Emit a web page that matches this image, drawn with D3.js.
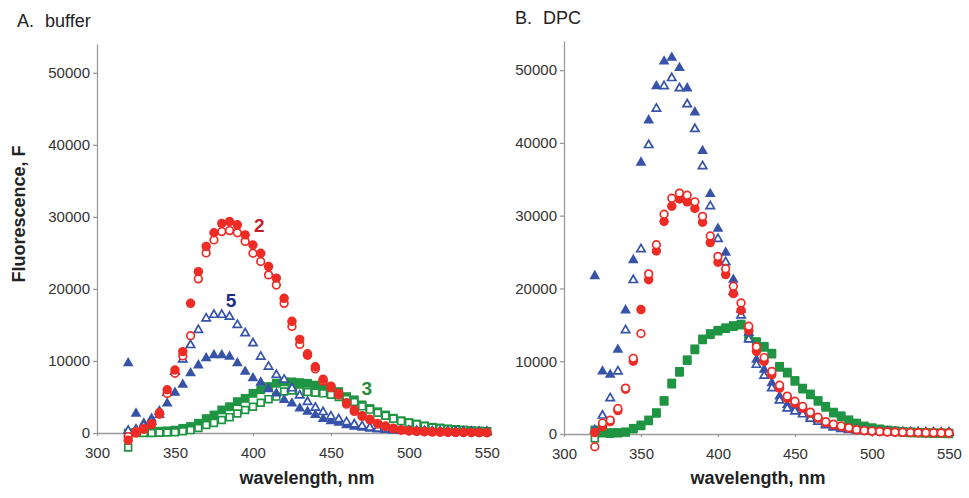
<!DOCTYPE html>
<html>
<head>
<meta charset="utf-8">
<script src="https://cdn.jsdelivr.net/npm/d3@7"></script>
<style>
body { margin: 0; background: #fff; }
svg { display: block; font-family: "Liberation Sans", Arial, sans-serif; }
</style>
</head>
<body>
<div id="container"></div>
<script>
/* CONSTANTS AND GLOBALS */
const width = 969, height = 498;
const red = "#ee2b25", blue = "#3653a8", green = "#1f9442";

/* DATA (5 nm steps) */
const wavelengths = [320,325,330,335,340,345,350,355,360,365,370,375,380,385,390,395,400,405,410,415,
  420,425,430,435,440,445,450,455,460,465,470,475,480,485,490,495,500,505,510,515,
  520,525,530,535,540,545,550];
const yTicks = [0, 10000, 20000, 30000, 40000, 50000];
const xTicks = [300, 350, 400, 450, 500, 550];

// A. buffer
const bufRedFilled = [-1000,0,600,1300,2800,6000,8750,11300,18000,22400,25900,27800,29100,29350,28900,27500,26100,24950,23100,21500,
  18700,15500,13000,10800,9200,7450,6500,5500,4200,3200,2400,1900,1340,970,650,420,320,250,200,160,
  130,110,90,80,70,60,50];
const bufRedOpen = [-500,200,500,1200,2600,5500,8300,10700,13500,21400,25000,26800,27960,28100,27800,26600,24950,23800,21950,20550,
  18000,14800,12300,11000,8900,7200,6300,5300,4000,3000,2300,1800,1250,900,600,400,300,230,180,150,
  120,100,80,70,60,50,40];
const bufBlueFilled = [9700,2700,1340,2000,2500,4100,5600,6700,8300,9400,10400,10800,10800,10600,9700,8500,7600,7000,6100,5500,
  4600,4100,3400,2950,2500,1950,1650,1430,1100,880,740,600,500,420,370,330,300,270,250,230,
  210,200,190,180,170,160,150];
const bufBlueOpen = [300,500,1000,1600,3000,5600,8500,10200,12200,14300,15900,16400,16400,16150,15000,13840,12450,10600,9200,8050,
  7400,6200,5200,4300,3500,2900,2300,1900,1500,1200,950,750,600,480,400,340,300,270,240,220,
  200,180,170,160,150,140,130];
const bufGreenFilled = [0,100,150,200,250,300,400,650,900,1350,2000,2500,3200,3650,4350,4800,5500,6000,6450,6900,
  7100,7100,7000,6900,6650,6400,6200,5750,5050,4600,3900,3400,2950,2500,2050,1700,1450,1250,1000,800,
  700,560,500,420,320,280,230];
const bufGreenOpen = [-2000,0,0,0,50,80,100,250,400,700,1100,1400,1800,2200,2700,3200,3650,4200,4700,5050,
  5750,5900,5800,5700,5600,5500,5300,5000,4700,4300,3700,3250,2800,2400,2000,1650,1400,1200,950,770,
  660,540,480,400,310,260,210];

// B. DPC
const dpcRedFilled = [200,1000,1700,3220,6160,10000,17100,21200,25150,29200,31300,32300,31900,31000,29100,26300,23600,21900,19300,17000,
  14200,11360,9980,8140,6300,4920,4230,3540,2850,2160,1560,1240,1010,780,550,450,380,320,280,250,
  220,200,180,160,150,140,130];
const dpcRedOpen = [-1750,1500,1900,3500,6300,10400,13800,22000,26000,30200,32400,33100,32800,31900,29900,27200,24400,22700,20300,18000,
  14800,12000,10500,8600,6700,5200,4500,3800,3000,2300,1700,1350,1100,850,600,480,400,340,290,260,
  230,210,190,170,160,150,140];
const dpcBlueFilled = [21700,8600,8140,11590,17000,23900,37300,43100,47800,51200,51700,50300,47500,44200,38900,33000,28200,24930,21200,17100,
  13900,10200,8830,7000,5150,4000,3540,3080,2400,1930,1380,1010,780,640,550,460,400,350,310,280,
  260,240,230,220,210,200,200];
const dpcBlueOpen = [500,2530,4920,8600,14260,21150,25400,39700,44700,47800,48900,47500,45300,41900,36800,31300,26800,23600,19500,16300,
  13000,9500,8000,6300,4600,3500,3100,2700,2100,1700,1200,900,700,560,480,400,350,310,280,250,
  230,220,210,200,190,180,170];
const dpcGreenFilled = [550,300,200,200,300,780,1240,1930,2940,4600,7000,8600,10200,11700,13060,13800,14250,14600,14900,15100,
  13300,12700,12050,11100,9300,8500,7350,6300,5500,4600,3800,3000,2500,1950,1500,1100,870,700,550,450,
  350,300,250,200,180,150,130];
const dpcGreenOpen = [-600,100,50,100,200,650,1100,1800,2800,4450,6850,8450,10050,11550,12900,13650,14100,14450,14750,14950,
  13150,12550,11900,10950,9150,8350,7200,6150,5350,4450,3650,2850,2350,1800,1350,950,720,550,400,300,
  200,150,100,60,40,20,10];

/* PANEL LAYOUT */
const panels = [
  { letter: "A.", name: "buffer", titleX: 17, nameX: 45, titleY: 27,
    left: 97, right: 490, bottom: 433, top: 44, xLabel: 307,
    series: [
      { values: bufGreenFilled, color: green, shape: "square", open: false },
      { values: bufGreenOpen, color: green, shape: "square", open: true },
      { values: bufBlueFilled, color: blue, shape: "triangle", open: false },
      { values: bufBlueOpen, color: blue, shape: "triangle", open: true },
      { values: bufRedOpen, color: red, shape: "circle", open: true },
      { values: bufRedFilled, color: red, shape: "circle", open: false }
    ],
    notes: [
      { text: "2", x: 404, y: 27900, color: "#c21f2d" },
      { text: "5", x: 386, y: 17500, color: "#1f2c86" },
      { text: "3", x: 473, y: 5300, color: "#2a8b3b" }
    ] },
  { letter: "B.", name: "DPC", titleX: 515, nameX: 543, titleY: 24,
    left: 564, right: 952, bottom: 434, top: 41, xLabel: 758,
    series: [
      { values: dpcGreenOpen, color: green, shape: "square", open: true },
      { values: dpcGreenFilled, color: green, shape: "square", open: false },
      { values: dpcBlueFilled, color: blue, shape: "triangle", open: false },
      { values: dpcBlueOpen, color: blue, shape: "triangle", open: true },
      { values: dpcRedFilled, color: red, shape: "circle", open: false },
      { values: dpcRedOpen, color: red, shape: "circle", open: true }
    ],
    notes: [] }
];

// CREATE SVG ELEMENT
const svg = d3.select("#container")
  .append("svg")
  .attr("width", width)
  .attr("height", height);

svg.append("rect").attr("width", width).attr("height", height).attr("fill", "#fff");

const shapes = { circle: d3.symbolCircle, triangle: d3.symbolTriangle, square: d3.symbolSquare };
const sizes = {
  circle: { filled: 70, open: 46 },
  triangle: { filled: 50, open: 30 },
  square: { filled: 78, open: 46 }
};

panels.forEach(p => {
  // SCALES
  const xScale = d3.scaleLinear().domain([300, 552]).range([p.left, p.right]);
  const yScale = d3.scaleLinear().domain([0, 54000]).range([p.bottom, p.top]);

  const g = svg.append("g");

  // AXES
  const xAxis = d3.axisBottom(xScale).tickValues(xTicks).tickSize(3).tickSizeOuter(0).tickPadding(11);
  g.append("g")
    .attr("class", "axis")
    .attr("transform", `translate(0,${p.bottom})`)
    .call(xAxis);

  const yAxis = d3.axisLeft(yScale).tickValues(yTicks).tickFormat(d3.format("d"))
    .tickSize(4).tickSizeOuter(0).tickPadding(3);
  g.append("g")
    .attr("class", "axis")
    .attr("transform", `translate(${p.left},0)`)
    .call(yAxis);

  g.selectAll(".axis path, .axis line").attr("stroke", "#9a9a9a").attr("stroke-width", 1.3);
  g.selectAll(".axis text").attr("fill", "#333").style("font-size", "15px")
    .style("font-family", "'Liberation Sans', Arial, sans-serif");

  // POINTS
  p.series.forEach(s => {
    const sym = d3.symbol().type(shapes[s.shape]).size(sizes[s.shape][s.open ? "open" : "filled"]);
    g.append("g")
      .selectAll("path")
      .data(s.values.map((v, i) => ({ w: wavelengths[i], f: v })))
      .join("path")
      .attr("transform", d => `translate(${xScale(d.w)},${yScale(d.f)})`)
      .attr("d", sym)
      .attr("fill", s.open ? "#fff" : s.color)
      .attr("stroke", s.open ? s.color : "none")
      .attr("stroke-width", s.open ? 1.7 : 0);
  });

  // CURVE NUMBERS
  g.selectAll(".note")
    .data(p.notes)
    .join("text")
    .attr("class", "note")
    .attr("x", d => xScale(d.x))
    .attr("y", d => yScale(d.y))
    .attr("text-anchor", "middle")
    .attr("fill", d => d.color)
    .style("font-size", "19px")
    .style("font-weight", "bold")
    .text(d => d.text);

  // TITLES
  g.append("text")
    .attr("x", p.titleX).attr("y", p.titleY)
    .attr("fill", "#222").style("font-size", "18px")
    .text(p.letter);
  g.append("text")
    .attr("x", p.nameX).attr("y", p.titleY)
    .attr("fill", "#222").style("font-size", "18px")
    .text(p.name);

  g.append("text")
    .attr("x", p.xLabel).attr("y", 484)
    .attr("text-anchor", "middle")
    .attr("fill", "#222")
    .style("font-size", "18px").style("font-weight", "bold")
    .text("wavelength, nm");
});

// Y AXIS TITLE
svg.append("text")
  .attr("transform", "translate(25,214) rotate(-90)")
  .attr("text-anchor", "middle")
  .attr("fill", "#222")
  .style("font-size", "18px").style("font-weight", "bold")
  .text("Fluorescence, F");
</script>
</body>
</html>
